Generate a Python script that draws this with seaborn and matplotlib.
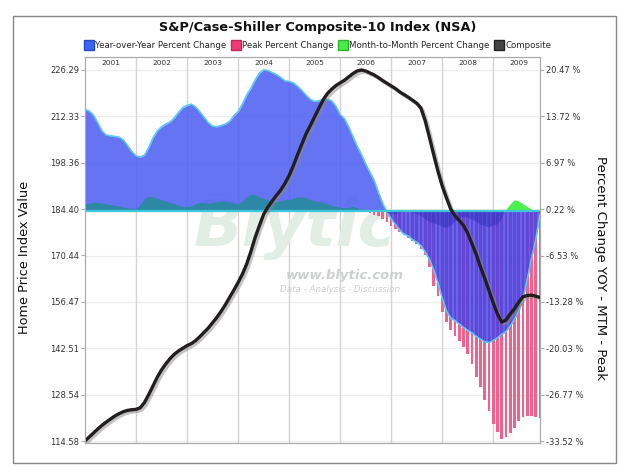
import matplotlib
matplotlib.use("Agg")
import matplotlib.pyplot as plt
import matplotlib.patheffects as pe
from matplotlib.lines import Line2D
from matplotlib.patches import Rectangle
import numpy as np
import pandas as pd
import seaborn as sns

# Monthly data, Jan 2001 - Dec 2009
months = pd.period_range("2001-01", "2009-12", freq="M")

# Composite-10 index level (left axis)
composite = [
    114.6, 115.8, 117.0, 118.2, 119.3, 120.3, 121.2, 122.1, 122.8, 123.4, 123.8, 124.0,
    124.1, 124.6, 126.2, 128.6, 131.2, 133.8, 136.0, 137.8, 139.4, 140.7, 141.7, 142.5,
    143.3, 143.9, 144.8, 146.0, 147.3, 148.6, 150.2, 151.8, 153.6, 155.6, 157.8, 160.0,
    162.3, 164.8, 167.8, 171.6, 175.8, 179.4, 182.8, 185.0, 186.8, 188.5, 190.1, 192.1,
    194.5, 197.5, 200.8, 204.0, 207.1, 209.6, 212.2, 214.8, 217.3, 219.2, 220.5, 221.6,
    222.4, 223.2, 224.2, 225.2, 226.0, 226.29, 226.0, 225.4, 224.8, 224.0, 223.1, 222.3,
    221.5, 220.7, 219.7, 218.9, 218.1, 217.2, 216.3, 214.8, 211.0, 206.0, 200.8, 195.8,
    191.4, 187.8, 184.4, 182.4, 181.0, 179.5, 177.2, 174.0, 170.8, 167.0, 163.6, 159.9,
    156.2, 152.8, 150.4, 151.0, 152.8, 154.4, 156.4, 158.0, 158.4, 158.5, 158.2, 157.8,
]

# Year-over-year percent change (right axis)
yoy = [
    14.7, 14.5, 13.9, 12.8, 11.6, 11.0, 10.9, 10.8, 10.7, 10.3, 9.5, 8.6,
    8.0, 7.8, 8.1, 9.2, 10.6, 11.6, 12.2, 12.6, 12.9, 13.5, 14.3, 15.0,
    15.3, 15.5, 15.1, 14.4, 13.6, 12.8, 12.3, 12.2, 12.4, 12.6, 13.0, 13.8,
    14.4, 15.5, 16.8, 17.8, 19.0, 20.0, 20.5, 20.4, 20.1, 19.8, 19.4, 18.9,
    18.8, 18.6, 18.1, 17.5, 16.8, 16.2, 15.9, 16.0, 16.2, 16.2, 16.0, 15.2,
    14.0, 13.4, 12.2, 10.8, 9.4, 8.2, 6.8, 5.6, 4.4, 2.7, 1.1, -0.2,
    -1.2, -2.0, -2.8, -3.4, -3.7, -4.2, -4.6, -5.1, -6.0, -7.1, -8.6, -10.5,
    -12.7, -14.6, -15.6, -16.0, -16.5, -17.0, -17.4, -17.8, -18.3, -18.7, -19.1, -19.2,
    -18.9, -18.5, -18.0, -17.6, -16.8, -15.8, -14.6, -12.9, -10.0, -7.0, -4.2, -0.5,
]

# Month-to-month percent change (right axis)
mtm = [
    0.9, 1.1, 1.2, 1.2, 1.1, 1.0, 0.9, 0.8, 0.7, 0.5, 0.4, 0.3,
    0.3, 0.9, 1.8, 2.1, 2.0, 1.8, 1.6, 1.4, 1.2, 1.0, 0.8, 0.6,
    0.6, 0.7, 1.0, 1.2, 1.2, 1.1, 1.2, 1.3, 1.4, 1.4, 1.3, 1.1,
    1.0, 1.4, 2.0, 2.4, 2.3, 2.0, 1.8, 1.6, 1.4, 1.3, 1.5, 1.6,
    1.6, 1.8, 2.0, 2.0, 1.9, 1.6, 1.4, 1.3, 1.2, 1.0, 0.8, 0.6,
    0.5, 0.4, 0.5, 0.6, 0.4, 0.2, -0.1, -0.3, -0.5, -0.6, -0.5, -0.4,
    -0.4, -0.5, -0.3, -0.2, -0.2, -0.3, -0.5, -0.8, -1.2, -1.6, -1.9, -2.0,
    -2.3, -2.5, -2.2, -1.6, -1.2, -0.9, -1.0, -1.3, -1.6, -2.0, -2.2, -2.4,
    -2.2, -2.0, -1.2, 0.2, 1.0, 1.6, 1.4, 1.0, 0.6, 0.2, -0.2, -0.3,
]

# Percent change from peak, Jul 2006 - Dec 2009 (right axis)
peak_months = pd.period_range("2006-07", "2009-12", freq="M")
peak = [
    -0.1, -0.4, -0.6, -0.8, -1.2, -1.7,
    -2.2, -2.6, -3.1, -3.5, -4.0, -4.4, -4.9, -5.6, -6.5, -8.2, -11.0, -12.4,
    -14.7, -16.2, -17.3, -18.2, -18.9, -19.9, -20.8, -22.3, -24.2, -25.6, -27.5, -29.2,
    -31.0, -32.2, -33.3, -33.0, -32.3, -31.6, -30.6, -30.0, -29.9, -29.9, -30.0, -30.1,
]

left_ticks = [114.58, 128.54, 142.51, 156.47, 170.44, 184.40, 198.36, 212.33, 226.29]
right_ticks = [-33.52, -26.77, -20.03, -13.28, -6.53, 0.22, 6.97, 13.72, 20.47]
years = list(range(2001, 2010))

sns.set_style("white")
plt.rcParams["font.family"] = ["DejaVu Sans"]

df = pd.DataFrame({"pos": np.arange(len(months)), "composite": composite,
                   "yoy": yoy, "mtm": mtm})
pk = pd.DataFrame({"pos": [(m - months[0]).n for m in peak_months], "peak": peak})

fig = plt.figure(figsize=(6.19, 4.70), dpi=100)
ax = fig.add_axes([85 / 619, 27 / 470, 455 / 619, 386 / 470])
ax2 = ax.twinx()
ax.set_zorder(ax2.get_zorder() + 1)
ax.patch.set_visible(False)

# grid
for k in range(1, len(years)):
    ax2.axvline(12 * k, color="#d4d4d4", lw=1, zorder=0.5)
for v in right_ticks:
    ax2.axhline(v, color="#ececec", lw=0.8, zorder=0.4)

# watermark
ax2.text(295 / 619, 1 - 228 / 470, "Blytic", transform=fig.transFigure, ha="center",
         va="center", fontsize=46, style="italic", weight="bold", color="#e2ede5", zorder=1)
ax2.text(345 / 619, 1 - 275 / 470, "www.blytic.com", transform=fig.transFigure, ha="center",
         va="center", fontsize=9.5, style="italic", weight="bold", color="#cdd0ce", zorder=1)
ax2.text(340 / 619, 1 - 290 / 470, "Data - Analysis - Discussion", transform=fig.transFigure,
         ha="center", va="center", fontsize=6.3, style="italic", color="#cdd0ce", zorder=1)

# peak percent change bars
ax2.bar(pk["pos"], pk["peak"], width=0.62, color="#f2608c", lw=0, zorder=2)

# year-over-year area (positive and negative parts)
ax2.fill_between(df["pos"], 0, df["yoy"], where=df["yoy"] >= 0, interpolate=True,
                 color="#4a5cf2", alpha=0.85, lw=0, zorder=3)
ax2.fill_between(df["pos"], 0, df["yoy"], where=df["yoy"] <= 0, interpolate=True,
                 color="#4040e8", alpha=0.8, lw=0, zorder=3)
ax2.plot(df["pos"], df["yoy"], color="#5cc8f2", lw=1.2, zorder=3.5)

# month-to-month area
up_blue = (df["mtm"] > 0) & (df["yoy"] > 0)
up_free = (df["mtm"] > 0) & (df["yoy"] <= 0)
down = (df["mtm"] < 0) & (df["yoy"] < 0)
ax2.fill_between(df["pos"], 0, df["mtm"], where=up_blue, interpolate=True,
                 color="#2d88a6", lw=0, zorder=4)
ax2.fill_between(df["pos"], 0, df["mtm"], where=up_free, interpolate=True,
                 color="#4cf04c", lw=0, zorder=4)
ax2.fill_between(df["pos"], 0, df["mtm"], where=down, interpolate=True,
                 color="#2a2ab8", alpha=0.45, lw=0, zorder=4)
ax2.axhline(0, color="#3cc8d8", lw=1.6, zorder=5)

# composite line
sns.lineplot(data=df, x="pos", y="composite", ax=ax, color="#221e1e", lw=2.4,
             path_effects=[pe.SimpleLineShadow(offset=(1.5, -1.5), shadow_color="#888888",
                                               alpha=0.5), pe.Normal()])

ax.set_xlim(0, len(months) - 1)
ax.set_ylim(113.98, 230.2)
ax2.set_ylim(-33.81, 22.36)
ax.set_xticks([])
ax.set_xlabel("")
ax.set_ylabel("")

ax.set_yticks(left_ticks, labels=[f"{v:.2f}" for v in left_ticks])
ax2.set_yticks(right_ticks, labels=[f"{v:.2f} %" for v in right_ticks])
for a in (ax, ax2):
    a.tick_params(axis="y", labelsize=6, length=3, width=0.8, color="#aaaaaa",
                  labelcolor="#333333", pad=1)
    for s in a.spines.values():
        s.set_color("#aaaaaa")
        s.set_linewidth(0.8)

for i, yr in enumerate(years):
    ax.text(12 * i + 6, 0.985, str(yr), transform=ax.get_xaxis_transform(),
            ha="center", va="center", fontsize=5.3, color="#333333")

fig.text(25 / 619, 1 - 257 / 470, "Home Price Index Value", rotation=90,
         ha="center", va="center", fontsize=9.3, color="#111111")
fig.text(601 / 619, 1 - 268 / 470, "Percent Change YOY - MTM - Peak", rotation=270,
         ha="center", va="center", fontsize=9.5, color="#111111")

fig.text(318 / 619, 1 - 28 / 470, "S&P/Case-Shiller Composite-10 Index (NSA)",
         ha="center", va="center", fontsize=9.3, weight="bold", color="#111111")

handles = [
    Line2D([], [], ls="", marker="s", ms=7, mfc="#3b66f5", mec="#2a4bc0"),
    Line2D([], [], ls="", marker="s", ms=7, mfc="#f23a78", mec="#c02a5a"),
    Line2D([], [], ls="", marker="s", ms=7, mfc="#44ee44", mec="#30b030"),
    Line2D([], [], ls="", marker="s", ms=7, mfc="#444444", mec="#222222"),
]
labels = ["Year-over-Year Percent Change", "Peak Percent Change",
          "Month-to-Month Percent Change", "Composite"]
fig.legend(handles, labels, loc="center", bbox_to_anchor=(318 / 619, 1 - 46 / 470),
           ncol=4, frameon=False, fontsize=6.2, handlelength=0.9, handletextpad=0.3,
           columnspacing=0.6, borderaxespad=0)

fig.patches.append(Rectangle((13 / 619, 7 / 470), 603 / 619, 447 / 470,
                             transform=fig.transFigure, fill=False,
                             edgecolor="#888888", lw=1))

fig.savefig("out.png", dpi=100)
